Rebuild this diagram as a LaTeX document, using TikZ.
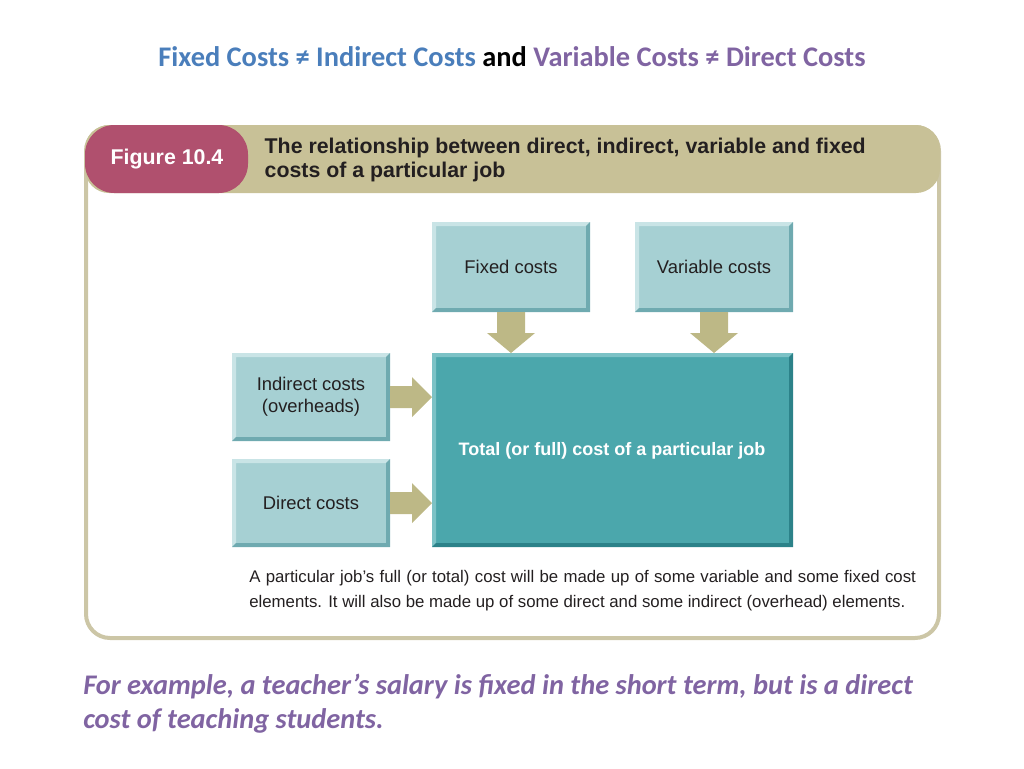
\documentclass[tikz,border=0pt]{standalone}
\usepackage{fontspec}
\setmainfont{Carlito}
\newfontfamily\hv{Liberation Sans}
\usetikzlibrary{calc}
\definecolor{tblue}{HTML}{4A7EBB}
\definecolor{tpurp}{HTML}{8064A2}
\definecolor{tan}{HTML}{C8C197}
\definecolor{tanline}{HTML}{CCC6A6}
\definecolor{mag}{HTML}{B0506E}
\definecolor{lteal}{HTML}{A6D0D3}
\definecolor{lteald}{HTML}{6FAAB0}
\definecolor{ltealh}{HTML}{C9E4E6}
\definecolor{dteal}{HTML}{4BA7AC}
\definecolor{dteald}{HTML}{2C8289}
\definecolor{dtealh}{HTML}{7CC2C6}
\definecolor{arr}{HTML}{BDB886}
\definecolor{txt}{HTML}{231F20}
\newcommand{\bevbox}[8]{%
  \fill[#7] (#2,#3) rectangle (#4,#5);
  \fill[#8] (#2,#3) -- (#4,#3) -- ({#4-4},{#3+4}) -- ({#2+4},{#3+4}) -- ({#2+4},{#5-4}) -- (#2,#5) -- cycle;
  \fill[#6] (#4,#5) -- (#2,#5) -- ({#2+4},{#5-4}) -- ({#4-4},{#5-4}) -- ({#4-4},{#3+4}) -- (#4,#3) -- cycle;
  \node[inner sep=0pt,minimum width={(#4-#2)*0.75pt},minimum height={(#5-#3)*0.75pt}] (#1) at ({(#2+#4)/2},{(#3+#5)/2}) {};
}
\begin{document}
\begin{tikzpicture}[x=0.75pt,y=-0.75pt,
  boxtxt/.style={font=\hv\fontsize{13.8}{16.5}\selectfont,text=txt,align=center},
  arrowf/.style={fill=arr}]
\useasboundingbox (0,0) rectangle (1024,768);
\node (title) at (512,57) {\fontsize{21.3}{25}\selectfont\bfseries
  \textcolor{tblue}{Fixed Costs ≠ Indirect Costs} and \textcolor{tpurp}{Variable Costs ≠ Direct Costs}};
% frame
\draw[tanline,line width=3pt,rounded corners=18pt] (86,127) rectangle (939,638);
\fill[tan,rounded corners=18pt] (85,125) rectangle (940,193);
\fill[mag,rounded corners=22pt] (85,125) rectangle (248,193);
\node[text=white,font=\hv\bfseries\fontsize{16}{18}\selectfont] (fig) at (167,159) {Figure 10.4};
\node[anchor=west,align=left,text=txt,font=\hv\bfseries\fontsize{16}{18.5}\selectfont] (head) at (260,160)
 {The relationship between direct, indirect, variable and fixed\\costs of a particular job};
% boxes
\bevbox{fx}{432}{222}{590}{312}{lteald}{lteal}{ltealh}
\bevbox{vr}{635}{222}{793}{312}{lteald}{lteal}{ltealh}
\bevbox{ind}{232}{353}{390}{441}{lteald}{lteal}{ltealh}
\bevbox{dir}{232}{459}{390}{547}{lteald}{lteal}{ltealh}
\bevbox{tot}{432}{353}{793}{547}{dteald}{dteal}{dtealh}
\node[boxtxt] at (fx) {Fixed costs};
\node[boxtxt] at (vr) {Variable costs};
\node[boxtxt] at (ind) {Indirect costs\\(overheads)};
\node[boxtxt] at (dir) {Direct costs};
\node[boxtxt,text=white,font=\hv\bfseries\fontsize{13.5}{16}\selectfont] at (612,451) {Total (or full) cost of a particular job};
% block arrows
\foreach \n/\xx in {fx/511,vr/714}{
  \fill[arrowf] (\xx-14,312) -- (\xx+14,312) -- (\xx+14,333) -- (\xx+24,333) -- (\xx,353) -- (\xx-24,333) -- (\xx-14,333) -- cycle;}
\foreach \n/\yy in {ind/397,dir/503}{
  \fill[arrowf] (390,\yy-11) -- (412,\yy-11) -- (412,\yy-20) -- (432,\yy) -- (412,\yy+20) -- (412,\yy+11) -- (390,\yy+11) -- cycle;}
\node[anchor=north west,text width=500pt,align=justify,text=txt,font=\hv\fontsize{12.6}{18.8}\selectfont,inner sep=0pt] (cap) at (249,570)
 {A particular job’s full (or total) cost will be made up of some variable and some fixed cost elements. It will also be made up of some direct and some indirect (overhead) elements.};
\node[anchor=north west,align=left,text=tpurp,font=\bfseries\itshape\fontsize{21.3}{25}\selectfont,inner sep=0pt] (ex) at (83,674)
 {For example, a teacher’s salary is fixed in the short term, but is a direct\\cost of teaching students.};
\end{tikzpicture}
\end{document}
